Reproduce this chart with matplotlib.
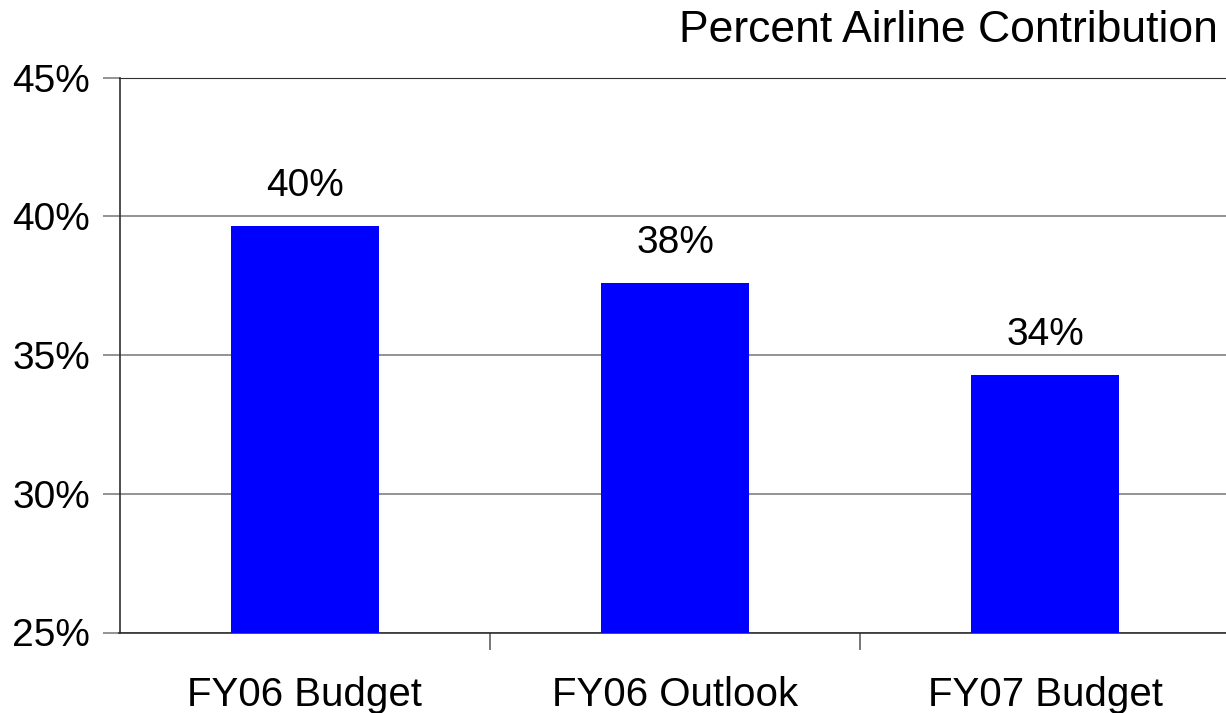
import matplotlib.pyplot as plt
from matplotlib.ticker import FuncFormatter

categories = ["FY06 Budget", "FY06 Outlook", "FY07 Budget"]
values = [39.65, 37.6, 34.28]
labels = ["40%", "38%", "34%"]
y_ticks = [25, 30, 35, 40, 45]

plt.rcParams["font.family"] = ["Liberation Sans", "DejaVu Sans"]

fig = plt.figure(figsize=(12.26, 7.13), dpi=100)
ax = fig.add_axes([119.5 / 1226, 1 - 632.5 / 713, 1111 / 1226, 555 / 713])

x = range(len(categories))
ax.bar(x, values, width=0.4, color="#0000ff", zorder=3)
for xi, v, lab in zip(x, values, labels):
    ax.text(xi, v + 0.8, lab, ha="center", va="bottom", fontsize=28)

ax.set_xlim(-0.5, 2.5)
ax.set_ylim(25, 45)
ax.set_yticks(y_ticks)
ax.yaxis.set_major_formatter(FuncFormatter(lambda v, p: f"{v:.0f}%"))
ax.yaxis.grid(True, color="#808080", linewidth=1.2, zorder=0)
ax.set_xticks([0.5, 1.5], minor=False)
ax.set_xticklabels([])
ax.set_xticks(list(x), minor=True)
ax.set_xticklabels(categories, minor=True, fontsize=29)
ax.tick_params(axis="x", which="major", length=12, color="#606060", width=1.2)
ax.tick_params(axis="x", which="minor", length=0, pad=31)
ax.tick_params(axis="y", length=12, color="#808080", width=1.2, labelsize=28, pad=9)

for s in ["left", "bottom"]:
    ax.spines[s].set_color("#303030")
    ax.spines[s].set_linewidth(1.2)
ax.spines["top"].set_color("#303030")
ax.spines["right"].set_visible(False)

fig.text(1218 / 1226, 1 - 42 / 713, "Percent Airline Contribution", ha="right",
         va="baseline", fontsize=32)

fig.savefig("out.png", dpi=100)
